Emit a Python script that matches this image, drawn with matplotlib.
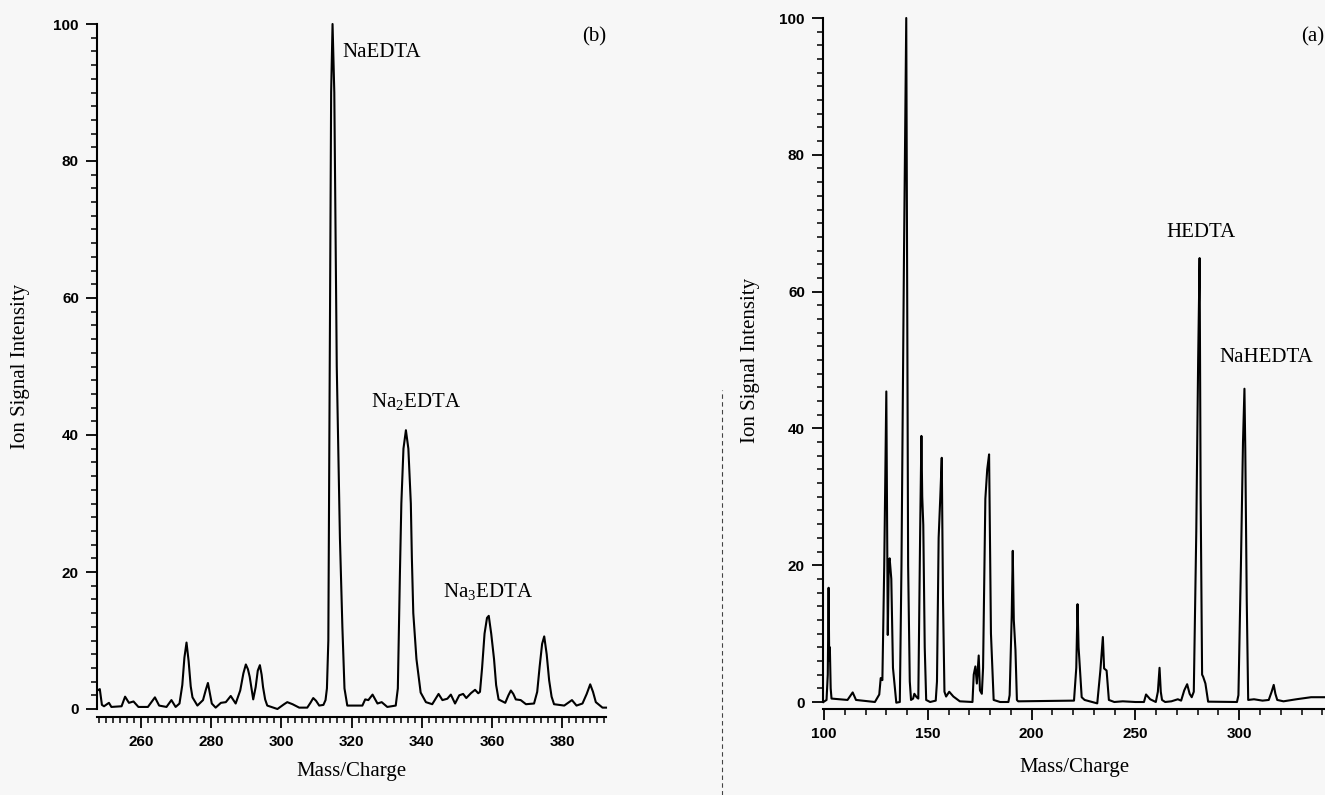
import matplotlib.pyplot as plt
from matplotlib.ticker import MultipleLocator
from matplotlib.lines import Line2D

# panel (b): sodium EDTA spectrum
mz_b = [247.6, 248.3, 248.9, 249.5, 250.9, 251.6, 254.5, 255.5, 256.6, 257.9,
        259.3, 262.0, 264.0, 265.2, 267.3, 268.7, 269.9, 271.0, 271.8, 272.4,
        273.0, 273.6, 274.2, 274.7, 276.1, 277.7, 278.5, 279.1, 279.7, 280.2,
        281.3, 282.8, 284.2, 285.6, 287.0, 288.3, 289.2, 289.9, 290.5, 291.0,
        292.0, 292.7, 293.3, 293.9, 294.4, 294.8, 295.4, 296.0, 298.9, 300.8,
        301.7, 303.2, 305.1, 307.4, 308.3, 309.1, 309.9, 310.8, 312.0, 312.6,
        313.0, 313.4, 313.8, 314.2, 314.6, 315.1, 315.8, 316.7, 317.4, 318.0,
        318.8, 323.1, 323.9, 324.8, 326.0, 327.4, 328.6, 330.2, 332.6, 333.2,
        333.8, 334.2, 334.8, 335.5, 336.2, 336.9, 337.2, 337.6, 338.5, 339.7,
        341.2, 343.0, 344.8, 345.9, 347.3, 348.3, 349.5, 350.7, 351.8, 352.7,
        354.0, 355.2, 356.1, 356.6, 357.2, 357.9, 358.6, 359.1, 359.8, 360.6,
        361.2, 361.9, 363.8, 364.7, 365.4, 366.1, 366.8, 368.2, 369.7, 372.0,
        372.9, 373.6, 374.3, 374.9, 375.6, 376.3, 377.0, 377.7, 380.6, 382.8,
        384.1, 385.8, 387.0, 388.0, 388.8, 389.6, 391.5, 392.5]
int_b = [2.7, 2.9, 0.6, 0.4, 0.9, 0.3, 0.4, 1.8, 0.9, 1.1,
         0.3, 0.3, 1.7, 0.5, 0.3, 1.3, 0.3, 0.8, 3.5, 7.5,
         9.7, 7.0, 3.3, 1.7, 0.5, 1.3, 2.8, 3.8, 2.2, 0.8,
         0.2, 0.9, 1.0, 1.9, 0.8, 2.7, 5.2, 6.5, 5.8, 4.7,
         1.4, 3.2, 5.6, 6.4, 5.0, 3.2, 1.4, 0.5, 0.0, 0.7,
         1.0, 0.7, 0.2, 0.2, 0.9, 1.6, 1.2, 0.5, 0.6, 1.3,
         3.0, 10.0, 50.0, 90.0, 100.0, 90.0, 50.0, 25.0, 12.0, 3.0,
         0.5, 0.5, 1.4, 1.3, 2.1, 0.8, 1.0, 0.3, 0.5, 3.0,
         20.0, 30.0, 38.0, 40.7, 38.0, 30.0, 22.0, 14.0, 7.3, 2.4,
         1.0, 0.7, 2.2, 1.3, 1.5, 2.1, 0.8, 2.0, 2.2, 1.6,
         2.3, 2.8, 2.3, 2.5, 6.0, 11.0, 13.3, 13.6, 11.0, 7.3,
         3.5, 1.4, 0.9, 2.0, 2.7, 2.2, 1.4, 1.3, 0.7, 0.8,
         2.5, 6.2, 9.5, 10.6, 8.0, 4.2, 1.8, 0.7, 0.5, 1.3,
         0.5, 0.8, 2.2, 3.6, 2.5, 1.0, 0.2, 0.2]

# panel (a): HEDTA spectrum
mz_a = [99.7, 101.2, 101.8, 102.2, 102.5, 102.8, 103.2, 103.6, 111.3, 113.8,
        115.4, 124.5, 126.6, 127.3, 128.1, 129.0, 130.0, 130.7, 131.2, 131.6,
        132.4, 133.2, 134.8, 136.5, 137.3, 138.5, 139.6, 140.5, 141.3, 141.9,
        142.9, 143.5, 144.6, 145.4, 146.3, 146.9, 147.3, 147.8, 148.5, 149.2,
        151.1, 153.8, 154.4, 155.2, 156.0, 156.7, 157.3, 158.0, 158.8, 160.3,
        162.3, 165.4, 171.5, 172.1, 172.9, 173.6, 174.5, 175.1, 176.0, 176.6,
        177.7, 178.6, 179.5, 180.4, 181.7, 184.8, 188.8, 189.4, 190.4, 190.9,
        191.4, 192.2, 192.9, 193.5, 220.4, 221.5, 222.1, 222.6, 222.9, 224.1,
        225.5, 231.6, 233.1, 234.3, 234.9, 236.1, 237.2, 239.8, 243.9, 250.0,
        254.1, 255.1, 257.1, 259.8, 260.8, 261.6, 262.2, 262.8, 264.3, 267.3,
        270.4, 272.0, 273.5, 274.9, 276.1, 277.1, 278.1, 279.3, 280.2, 280.9,
        281.4, 282.1, 282.6, 283.7, 285.0, 298.9, 299.6, 300.8, 301.8, 302.5,
        302.9, 303.6, 304.3, 307.1, 311.2, 314.2, 315.6, 316.6, 317.4, 318.3,
        321.3, 327.5, 334.6, 341.3]
int_a = [0.0, 0.3, 4.0, 16.7, 6.0, 8.0, 2.0, 0.5, 0.3, 1.4,
         0.3, 0.0, 1.1, 3.5, 3.2, 20.0, 45.4, 9.8, 20.5, 21.0,
         18.0, 5.0, -0.1, 0.0, 20.0, 65.0, 100.0, 20.0, 3.0, 0.3,
         0.5, 1.2, 0.7, 0.5, 25.0, 38.9, 30.0, 25.9, 8.0, 0.3,
         0.0, 0.2, 3.0, 24.0, 30.0, 35.7, 15.0, 1.5, 0.8, 1.5,
         0.8, 0.1, 0.0, 4.0, 5.2, 2.7, 6.8, 1.7, 1.2, 5.0,
         29.7, 34.0, 36.2, 10.0, 0.3, 0.0, 0.0, 1.0, 12.6, 22.1,
         12.0, 7.6, 0.3, 0.1, 0.2, 5.0, 14.3, 8.0, 6.6, 0.7,
         0.3, -0.2, 4.6, 9.5, 4.9, 4.6, 0.3, 0.0, 0.1, 0.0,
         0.0, 1.1, 0.4, 0.0, 1.5, 5.0, 1.5, 0.3, 0.0, 0.1,
         0.4, 0.2, 1.7, 2.6, 1.2, 0.7, 1.5, 25.0, 50.0, 64.9,
         30.0, 4.0, 3.7, 2.7, 0.05, 0.0, 1.0, 20.0, 38.0, 45.8,
         37.0, 15.0, 0.3, 0.4, 0.2, 0.3, 1.5, 2.5, 1.2, 0.3,
         0.1, 0.4, 0.7, 0.7]

plt.rcParams['font.family'] = 'Liberation Sans'
plt.rcParams['font.weight'] = 'bold'
plt.rcParams['mathtext.fontset'] = 'custom'
plt.rcParams['mathtext.rm'] = 'Liberation Serif:weight=normal'

W, H = 1325, 795
fig = plt.figure(figsize=(W / 100, H / 100), dpi=100, facecolor='#f7f7f7')
ax_b = fig.add_axes([97 / W, 1 - 709 / H, 509 / W, 685 / H])
ax_a = fig.add_axes([823 / W, 1 - 702 / H, 502 / W, 684 / H])

serif = dict(family='Liberation Serif', fontweight='normal', fontsize=15)


def style(ax, xlim, xmaj, xmin, gap):
    ax.set_facecolor('none')
    ax.set_xlim(*xlim)
    ax.set_ylim(0, 100)
    ax.spines['top'].set_visible(False)
    ax.spines['right'].set_visible(False)
    ax.spines['left'].set_linewidth(1.5)
    ax.spines['bottom'].set_linewidth(1.5)
    ax.spines['bottom'].set_position(('outward', gap))
    ax.xaxis.set_major_locator(MultipleLocator(xmaj))
    ax.xaxis.set_minor_locator(MultipleLocator(xmin))
    ax.yaxis.set_major_locator(MultipleLocator(20))
    ax.yaxis.set_minor_locator(MultipleLocator(2))
    ax.tick_params(which='major', length=8, width=1.3, direction='out',
                   pad=5, labelsize=11)
    ax.tick_params(which='minor', length=4.5, width=1.1, direction='out')
    ax.set_xlabel('Mass/Charge', **serif)
    ax.set_ylabel('Ion Signal Intensity', va='center', **serif)


# (b) left panel
style(ax_b, (247.5, 392.5), 20, 2, 6)
ax_b.plot(mz_b, int_b, color='black', lw=1.5, clip_on=False)
ax_b.xaxis.set_label_coords(0.5, -0.077)
ax_b.yaxis.set_label_coords(-0.151, 0.5)
ax_b.text(317.3, 95.9, 'NaEDTA', ha='left', va='center', **serif)
ax_b.text(338.5, 44.8, r'Na$_\mathrm{2}$EDTA', ha='center', va='center', **serif)
ax_b.text(358.9, 17.1, r'Na$_\mathrm{3}$EDTA', ha='center', va='center', **serif)
ax_b.text(389.1, 98.1, '(b)', ha='center', va='center', **serif)

# (a) right panel
style(ax_a, (99.5, 341.3), 50, 10, 5)
ax_a.plot(mz_a, int_a, color='black', lw=1.5, clip_on=False)
ax_a.xaxis.set_label_coords(0.5, -0.082)
ax_a.yaxis.set_label_coords(-0.145, 0.5)
ax_a.text(281.7, 68.7, 'HEDTA', ha='center', va='center', **serif)
ax_a.text(313.0, 50.3, 'NaHEDTA', ha='center', va='center', **serif)
ax_a.text(335.6, 97.2, '(a)', ha='center', va='center', **serif)

# dashed margin line of the scanned page
fig.add_artist(Line2D([722 / W, 722 / W], [0, 405 / H], color='#444444',
                      lw=0.8, ls=(0, (4, 3))))

fig.savefig('out.png', dpi=100, facecolor=fig.get_facecolor())
